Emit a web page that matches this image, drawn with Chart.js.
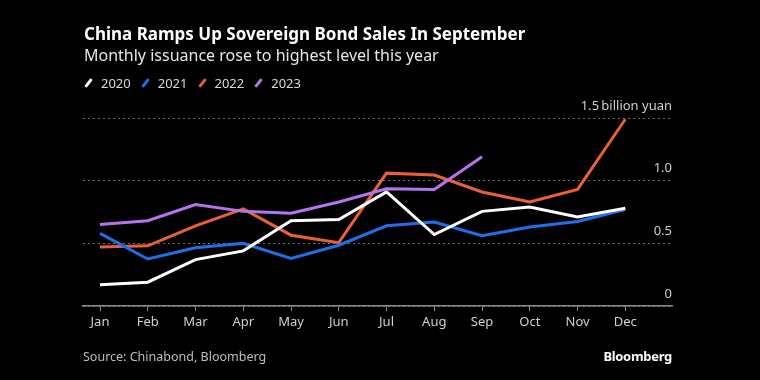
<!DOCTYPE html>
<html>
<head>
<meta charset="utf-8">
<script src="https://cdn.jsdelivr.net/npm/chart.js@4"></script>
<style>
  html, body { margin: 0; padding: 0; background: #000; }
  #wrap { position: relative; width: 760px; height: 380px; background: #000; overflow: hidden; font-family: "Noto Sans", sans-serif; }
  #title { position: absolute; left: 84px; top: 22px; color: #fff; font-weight: bold; font-size: 17px; white-space: nowrap; }
  #subtitle { position: absolute; left: 84px; top: 44px; color: #e6e6e6; font-size: 16px; white-space: nowrap; }
  #legend { position: absolute; left: 84px; top: 74px; display: flex; color: #d9d9d9; font-size: 13px; }
  .li { display: flex; align-items: center; margin-right: 10px; }
  .mk { display: inline-block; width: 3px; height: 10px; transform: rotate(38deg); margin: 0 11px 0 3px; border-radius: 1px; }
  #source { position: absolute; left: 83px; top: 348px; color: #bdbdbd; font-size: 12.5px; white-space: nowrap; }
  #brand { position: absolute; right: 88px; top: 347px; color: #fff; font-weight: bold; font-size: 13px; white-space: nowrap; letter-spacing: -0.3px; }
  canvas { position: absolute; left: 0; top: 0; }
</style>
</head>
<body>
<div id="wrap">
  <canvas id="c" width="760" height="380"></canvas>
  <div id="title">China Ramps Up Sovereign Bond Sales In September</div>
  <div id="subtitle">Monthly issuance rose to highest level this year</div>
  <div id="legend"></div>
  <div id="source">Source: Chinabond, Bloomberg</div>
  <div id="brand">Bloomberg</div>
</div>
<script>
const months = ["Jan","Feb","Mar","Apr","May","Jun","Jul","Aug","Sep","Oct","Nov","Dec"];
const seriesNames = ["2020","2021","2022","2023"];
const seriesColors = ["#ffffff","#1f6fe8","#ea5f36","#b574ee"];
const values2020 = [0.17,0.19,0.37,0.44,0.68,0.69,0.91,0.57,0.755,0.79,0.71,0.78];
const values2021 = [0.58,0.375,0.465,0.50,0.38,0.485,0.64,0.67,0.56,0.63,0.675,0.77];
const values2022 = [0.47,0.48,0.64,0.775,0.565,0.505,1.06,1.045,0.91,0.83,0.93,1.49];
const values2023 = [0.65,0.68,0.81,0.755,0.74,0.83,0.935,0.93,1.19];
const yTicks = [0,0.5,1.0,1.5];
const yTickLabels = ["0","0.5","1.0","1.5\u2009billion yuan"];

const allValues = [values2020, values2021, values2022, values2023];

// legend
const lg = document.getElementById('legend');
seriesNames.forEach((n,i)=>{
  const d = document.createElement('div'); d.className='li';
  const m = document.createElement('span'); m.className='mk'; m.style.background = seriesColors[i];
  const t = document.createElement('span'); t.textContent = n;
  d.appendChild(m); d.appendChild(t); lg.appendChild(d);
});

const datasets = allValues.map((vals,i)=>({
  label: seriesNames[i],
  data: vals.map((v,j)=>({x:j, y:v})),
  borderColor: seriesColors[i],
  backgroundColor: seriesColors[i],
  borderWidth: 3,
  pointRadius: 0,
  tension: 0
}));
// stacking order similar to the reference (white over blue, purple on top)
datasets[0].order = 1; datasets[1].order = 2; datasets[2].order = 3; datasets[3].order = 0;

new Chart(document.getElementById('c'), {
  type: 'line',
  data: { datasets },
  options: {
    responsive: false,
    animation: false,
    devicePixelRatio: 1,
    layout: { padding: { left: 83, right: 88, top: 118, bottom: 44 } },
    plugins: { legend: { display: false }, tooltip: { enabled: false } },
    scales: {
      x: {
        type: 'linear',
        min: -0.356, max: 11.978,
        afterBuildTicks: (s) => { s.ticks = months.map((m,i)=>({value:i})); },
        afterFit: (s) => { s.height = 30; },
        ticks: {
          color: '#cfcfcf', font: { family: 'Noto Sans', size: 13 }, padding: 3,
          callback: (v) => months[v] ?? '',
          autoSkip: false, maxRotation: 0
        },
        grid: { display: true, drawOnChartArea: false, drawTicks: true, tickLength: 5, color: '#8a8a8a', lineWidth: 1 },
        border: { display: true, color: '#8a8a8a', width: 1.5 }
      },
      y: {
        position: 'right',
        min: 0, max: 1.5,
        afterBuildTicks: (s) => { s.ticks = yTicks.map(v=>({value:v})); },
        afterFit: (s) => { s.width = 0; },
        ticks: {
          mirror: true, padding: 0, labelOffset: -12,
          color: '#cfcfcf', font: { family: 'Noto Sans', size: 13 },
          callback: (v) => { const k = yTicks.indexOf(v); return k >= 0 ? yTickLabels[k] : ''; }
        },
        grid: { drawTicks: false, color: '#6a6a6a', lineWidth: 1, borderDash: [2,3] },
        border: { display: false, dash: [2,3] }
      }
    }
  }
});
</script>
</body>
</html>
